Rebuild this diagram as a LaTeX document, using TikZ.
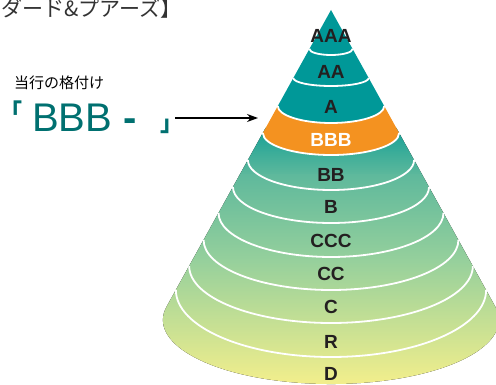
\documentclass[tikz,border=0pt]{standalone}
\usepackage{fontspec}
\setmainfont{Liberation Sans}
\newfontfamily\jp{Noto Sans CJK JP}
\usetikzlibrary{arrows.meta}
\definecolor{teal1}{RGB}{0,152,152}
\definecolor{orng}{RGB}{244,146,32}
\definecolor{ink}{RGB}{35,31,32}
\definecolor{tealdark}{RGB}{0,112,112}
\definecolor{gA}{RGB}{22,160,150}
\definecolor{gB}{RGB}{95,185,156}
\definecolor{gC}{RGB}{150,208,156}
\definecolor{gD}{RGB}{247,240,139}
\definecolor{titlegray}{RGB}{51,51,51}
\tikzset{
  sepline/.style={white, line width=1.8pt},
  lab/.style={inner sep=0pt, font=\fontsize{19}{19}\selectfont\bfseries, text=ink},
}
% cone: apex (331,-10), base ellipse centre (331,-319.9), radii 168 x 64.1, tangent at 168 deg
\newcommand{\conepath}{(331,-10) -- (166.6,-306.6) arc[start angle=168, end angle=372, x radius=168pt, y radius=64.1pt] -- cycle}
\begin{document}
\begin{tikzpicture}[x=1pt, y=1pt]
\useasboundingbox (0,0) rectangle (496,-385);
% gradient body
\begin{scope}
  \clip \conepath;
  \fill[top color=gA, bottom color=gB] (150,-128) rectangle (510,-176);
  \fill[top color=gB, bottom color=gC] (150,-175) rectangle (510,-261);
  \fill[top color=gC, bottom color=gD] (150,-260) rectangle (510,-390);
\end{scope}
% teal top
\fill[teal1] (331,-10) -- (277.8,-106) arc[start angle=180, end angle=360, x radius=53.2pt, y radius=17pt] -- cycle;
% orange band
\fill[orng] (277.8,-106) arc[start angle=180, end angle=360, x radius=53.2pt, y radius=17pt]
  -- (399.1,-133) arc[start angle=360, end angle=180, x radius=68.1pt, y radius=22pt] -- cycle;
% separators
\foreach \ye/\sg in {49/6, 78/8, 106/17, 133/22, 160/30, 187/36, 213/44, 240/50, 266/57, 290/67}{
  \pgfmathsetmacro\hw{0.554*(\ye-10)}
  \draw[sepline] ({331-\hw},-\ye) arc[start angle=180, end angle=360, x radius=\hw pt, y radius=\sg pt];
}
% labels
\node[lab] (aaa) at (331,-36) {AAA};
\node[lab] (aa) at (331,-72) {AA};
\node[lab] (a) at (331,-107) {A};
\node[lab, text=white] (bbb) at (331,-140) {BBB};
\node[lab] (bb) at (331,-175) {BB};
\node[lab] (b) at (331,-207) {B};
\node[lab] (ccc) at (331,-241) {CCC};
\node[lab] (cc) at (331,-274) {CC};
\node[lab] (c) at (331,-307) {C};
\node[lab] (r) at (331,-342) {R};
\node[lab] (d) at (331,-374) {D};
% left texts
\node[anchor=base west, inner sep=0pt, font=\jp\fontsize{21}{21}\selectfont, text=titlegray] (title) at (1,-17) {ダード\&プアーズ】};
\node[anchor=base west, inner sep=0pt, font=\jp\fontsize{15}{15}\selectfont, text=black] (cap) at (14,-89) {当行の格付け};
\node[anchor=base west, inner sep=0pt, font=\jp\bfseries\fontsize{23}{23}\selectfont, text=tealdark] (lb) at (-1,-121) {「};
\node[anchor=base west, inner sep=0pt, font=\fontsize{40}{40}\selectfont, text=tealdark] (rating) at (32,-132) {BBB {\bfseries -}};
\node[anchor=base west, inner sep=0pt, font=\jp\bfseries\fontsize{23}{23}\selectfont, text=tealdark] (rb) at (160,-132) {」};
\coordinate (from) at (175,-118);
\coordinate (tip) at (258,-118);
\draw[line width=1.1pt, -{Stealth[length=11pt, width=8pt]}] (from) -- (tip);
\end{tikzpicture}
\end{document}
